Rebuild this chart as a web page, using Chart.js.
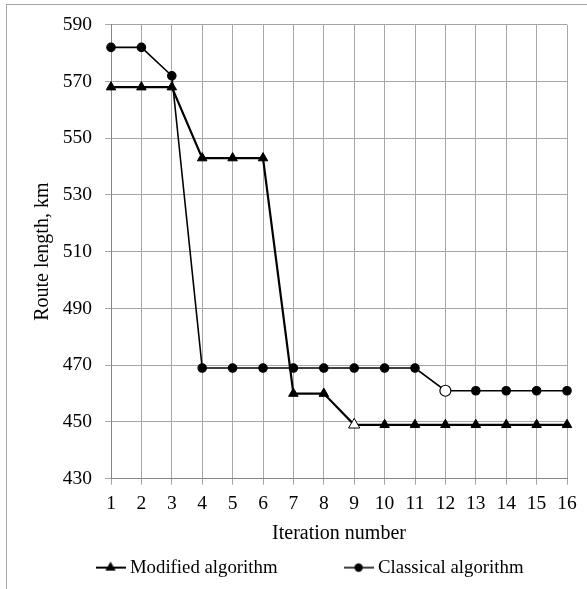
<!DOCTYPE html>
<html lang="en">
<head>
  <meta charset="UTF-8">
  <title>Route length by iteration</title>
  <script src="https://cdn.jsdelivr.net/npm/chart.js"></script>
  <style>
    html, body {
      margin: 0;
      padding: 0;
      background: #fff;
      overflow: hidden;
    }

    .frame {
      position: absolute;
      left: 6px;
      top: 4px;
      width: 640px;
      height: 640px;
      border: 1px solid #a6a6a6;
    }

    .wrap {
      position: absolute;
      left: 0;
      top: 0;
      width: 587px;
      height: 589px;
    }
  </style>
</head>
<body>
  <div class="frame"></div>
  <div class="wrap"><canvas id="routeChart"></canvas></div>

  <script>
    const iterations = ['1', '2', '3', '4', '5', '6', '7', '8', '9', '10', '11', '12', '13', '14', '15', '16'];
    const modifiedRoute = [568, 568, 568, 543, 543, 543, 460, 460, 449, 449, 449, 449, 449, 449, 449, 449];
    const classicalRoute = [582, 582, 572, 469, 469, 469, 469, 469, 469, 469, 469, 461, 461, 461, 461, 461];
    const yMin = 430;
    const yMax = 590;
    const yStep = 20;

    // iteration where each algorithm first reaches its best value (drawn hollow)
    const modifiedBest = 8;
    const classicalBest = 11;

    const serif = 'Liberation Serif, "Times New Roman", serif';
    Chart.defaults.color = '#000';
    Chart.defaults.font.family = serif;

    // little line + marker picture for the legend
    function legendSymbol(kind, lw) {
      const c = document.createElement('canvas');
      c.width = 30;
      c.height = 14;
      const g = c.getContext('2d');
      g.strokeStyle = '#000';
      g.fillStyle = '#000';
      g.lineWidth = lw;
      g.beginPath();
      g.moveTo(0, 7);
      g.lineTo(30, 7);
      g.stroke();
      g.beginPath();
      if (kind === 'triangle') {
        g.moveTo(15, 1);
        g.lineTo(20.2, 10);
        g.lineTo(9.8, 10);
        g.closePath();
      } else {
        g.arc(15, 7, 4.2, 0, Math.PI * 2);
      }
      g.fill();
      return c;
    }

    const symbols = [legendSymbol('triangle', 2), legendSymbol('circle', 1.5)];

    const gridColor = '#a6a6a6';

    new Chart(document.getElementById('routeChart').getContext('2d'), {
      type: 'line',
      data: {
        labels: iterations,
        datasets: [
          {
            label: 'Modified algorithm',
            data: modifiedRoute,
            borderColor: '#000',
            borderWidth: 2.2,
            pointStyle: 'triangle',
            pointRadius: ctx => ctx.dataIndex === modifiedBest ? 6.5 : 5.5,
            pointBorderWidth: 1,
            pointBorderColor: '#000',
            pointBackgroundColor: ctx => ctx.dataIndex === modifiedBest ? '#fff' : '#000',
            tension: 0,
            fill: false,
          },
          {
            label: 'Classical algorithm',
            data: classicalRoute,
            borderColor: '#000',
            borderWidth: 1.6,
            pointStyle: 'circle',
            pointRadius: ctx => ctx.dataIndex === classicalBest ? 5.5 : 4.2,
            pointBorderWidth: 1.2,
            pointBorderColor: '#000',
            pointBackgroundColor: ctx => ctx.dataIndex === classicalBest ? '#fff' : '#000',
            tension: 0,
            fill: false,
          },
        ],
      },
      options: {
        responsive: true,
        maintainAspectRatio: false,
        animation: false,
        layout: {
          padding: { left: 57, right: 20, top: 23, bottom: 2 },
        },
        plugins: {
          tooltip: { enabled: false },
          legend: {
            position: 'bottom',
            labels: {
              usePointStyle: true,
              pointStyleWidth: 20,
              padding: 10,
              color: '#000',
              font: { size: 18.8, family: serif },
              generateLabels: chart => chart.data.datasets.map((ds, i) => ({
                text: i === 0 ? ds.label + ' '.repeat(13) : ds.label,
                pointStyle: symbols[i],
                fillStyle: '#000',
                strokeStyle: '#000',
                lineWidth: 0,
                fontColor: '#000',
                hidden: false,
                datasetIndex: i,
              })),
            },
          },
        },
        scales: {
          x: {
            type: 'category',
            offset: false,
            grid: { color: gridColor, tickColor: gridColor, tickLength: 6 },
            border: { color: '#868686' },
            ticks: {
              autoSkip: false,
              maxRotation: 0,
              padding: 7,
              font: { size: 19.5, family: serif },
            },
            title: {
              display: true,
              text: 'Iteration number',
              font: { size: 20, family: serif },
              padding: { top: 0, bottom: 2.5 },
            },
            afterFit: s => { s.height = 69.5; },
          },
          y: {
            min: yMin,
            max: yMax,
            grid: { color: gridColor, tickColor: gridColor, tickLength: 6 },
            border: { color: '#868686' },
            ticks: {
              stepSize: yStep,
              padding: 13,
              font: { size: 19.5, family: serif },
            },
            title: {
              display: true,
              text: 'Route length, km',
              font: { size: 20, family: serif },
              padding: { top: -26, bottom: 0 },
            },
            afterFit: s => { s.width = 54; },
          },
        },
      },
    });
  </script>
</body>
</html>
